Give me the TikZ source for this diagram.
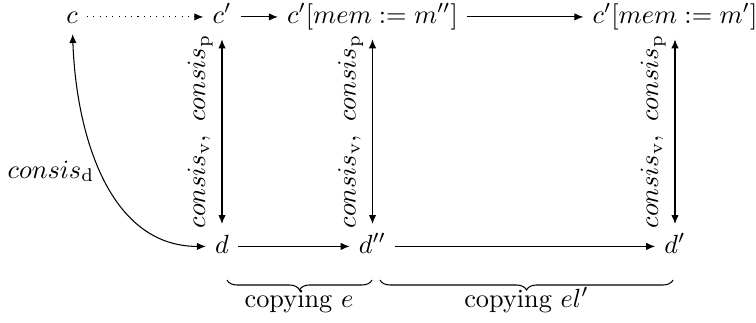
\documentclass[tikz,border=0pt]{standalone}
\usetikzlibrary{arrows.meta,decorations.pathreplacing}
\begin{document}
\begin{tikzpicture}[x=0.3802pt,y=0.3802pt,
  m/.style={anchor=base, inner sep=3.33pt, text height=5.5pt, text depth=0.5pt},
  ar/.style={-{Latex[length=3.4pt,width=2.8pt]}},
  dar/.style={{Latex[length=3.4pt,width=2.8pt]}-{Latex[length=3.4pt,width=2.8pt]}},
  vdar/.style={dar, shorten <=2pt, shorten >=2pt},
  vlab/.style={rotate=90, anchor=south, inner sep=3.33pt, midway},
  br/.style={decorate, decoration={brace, mirror, amplitude=3.8pt}},
  txt/.style={anchor=base, inner sep=0pt}]
\useasboundingbox (0,0) rectangle (756,322);
% top row
\node[m] (c)  at (72,298.5)  {$c$};
\node[m] (c1) at (222,298.5) {$c'$};
\node[m] (c2) at (372.5,298.5) {$c'[mem := m'']$};
\node[m] (c3) at (675,298.5) {$c'[mem := m']$};
% bottom row
\node[m] (d)  at (222,69)   {$d$};
\node[m] (d2) at (372.5,69) {$d''$};
\node[m] (d1) at (675,69)   {$d'$};
% horizontal arrows
\draw[ar, dotted] (c) -- (c1);
\draw[ar] (c1) -- (c2);
\draw[ar] (c2) -- (c3);
\draw[ar] (d) -- (d2);
\draw[ar] (d2) -- (d1);
% vertical arrows
\draw[vdar] (c1) -- node[vlab] (l1) {$consis_{\mathrm{v}},\ consis_{\mathrm{p}}$} (d);
\draw[vdar] (c2) -- node[vlab] (l2) {$consis_{\mathrm{v}},\ consis_{\mathrm{p}}$} (d2);
\draw[vdar] (c3) -- node[vlab] (l3) {$consis_{\mathrm{v}},\ consis_{\mathrm{p}}$} (d1);
% curved arrow
\draw[dar] (c) to[out=-88, in=180] (d);
\node[txt] (lcd) at (51,144) {$consis_{\mathrm{d}}$};
% braces
\coordinate (b1a) at (227,42);
\coordinate (b1b) at (372,42);
\coordinate (b2a) at (380,42);
\coordinate (b2b) at (673,42);
\draw[br] (b1a) -- (b1b);
\draw[br] (b2a) -- (b2b);
\node[txt] (ce) at (299,15) {copying $e$};
\node[txt] (cel) at (526.5,15) {copying $el'$};
\end{tikzpicture}
\end{document}
